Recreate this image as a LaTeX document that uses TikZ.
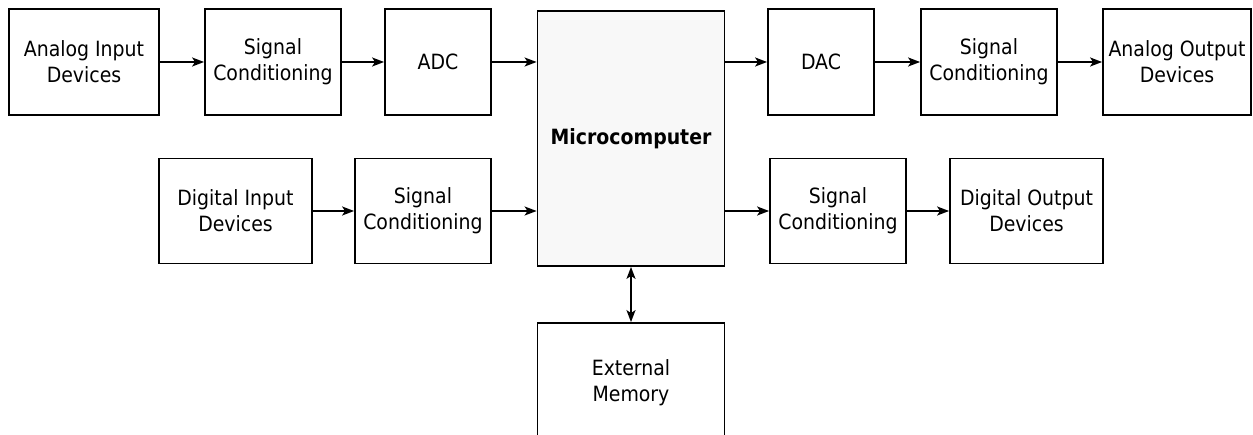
\documentclass[tikz,border=0pt]{standalone}
\usepackage{fontspec}
\setmainfont{DejaVu Sans Condensed}
\usetikzlibrary{arrows.meta}
\definecolor{mcfill}{HTML}{F8F8F8}
\tikzset{
  blk/.style={draw=black, line width=1.8pt, fill=white, align=center, inner sep=0pt,
    font=\fontsize{21}{26}\selectfont},
  conn/.style={line width=1.8pt, -{Stealth[length=12pt,width=9pt,inset=3pt]}},
  bconn/.style={line width=1.8pt, {Stealth[length=12pt,width=9pt,inset=3pt]}-{Stealth[length=12pt,width=9pt,inset=3pt]}}
}
\begin{document}
\begin{tikzpicture}[x=1pt,y=-1pt]
\useasboundingbox (0,0) rectangle (1253,435);
\begin{scope}
\clip (0,0) rectangle (1253,435);
\node[blk, minimum width=150pt, minimum height=106pt] (aid) at (84,62) {Analog Input\\Devices};
\node[blk, minimum width=136pt, minimum height=106pt] (sc1) at (273,62) {Signal\\Conditioning};
\node[blk, minimum width=106pt, minimum height=106pt] (adc) at (438,62) {ADC};
\node[blk, fill=mcfill, minimum width=187pt, minimum height=255pt, font=\fontsize{21}{26}\selectfont\bfseries] (mc) at (631,138.5) {Microcomputer};
\node[blk, minimum width=106pt, minimum height=106pt] (dac) at (821,62) {DAC};
\node[blk, minimum width=136pt, minimum height=106pt] (sc2) at (989,62) {Signal\\Conditioning};
\node[blk, minimum width=148pt, minimum height=106pt] (aod) at (1177,62) {Analog Output\\Devices};
\node[blk, minimum width=153pt, minimum height=105pt] (did) at (235.5,211) {Digital Input\\Devices};
\node[blk, minimum width=136pt, minimum height=105pt] (sc3) at (423,211) {Signal\\Conditioning};
\node[blk, minimum width=136pt, minimum height=105pt] (sc4) at (838,211) {Signal\\Conditioning};
\node[blk, minimum width=153pt, minimum height=105pt] (dod) at (1026.5,211) {Digital Output\\Devices};
\node[blk, minimum width=187pt, minimum height=120pt] (em) at (631,383) {External\\Memory};
\draw[conn] (aid) -- (sc1);
\draw[conn] (sc1) -- (adc);
\draw[conn] (adc.east) -- (adc.east -| mc.west);
\draw[conn] (dac.west -| mc.east) -- (dac.west);
\draw[conn] (dac) -- (sc2);
\draw[conn] (sc2) -- (aod);
\draw[conn] (did) -- (sc3);
\draw[conn] (sc3.east) -- (sc3.east -| mc.west);
\draw[conn] (sc4.west -| mc.east) -- (sc4.west);
\draw[conn] (sc4) -- (dod);
\draw[bconn] (mc.south) -- (em.north);
\end{scope}
\end{tikzpicture}
\end{document}
